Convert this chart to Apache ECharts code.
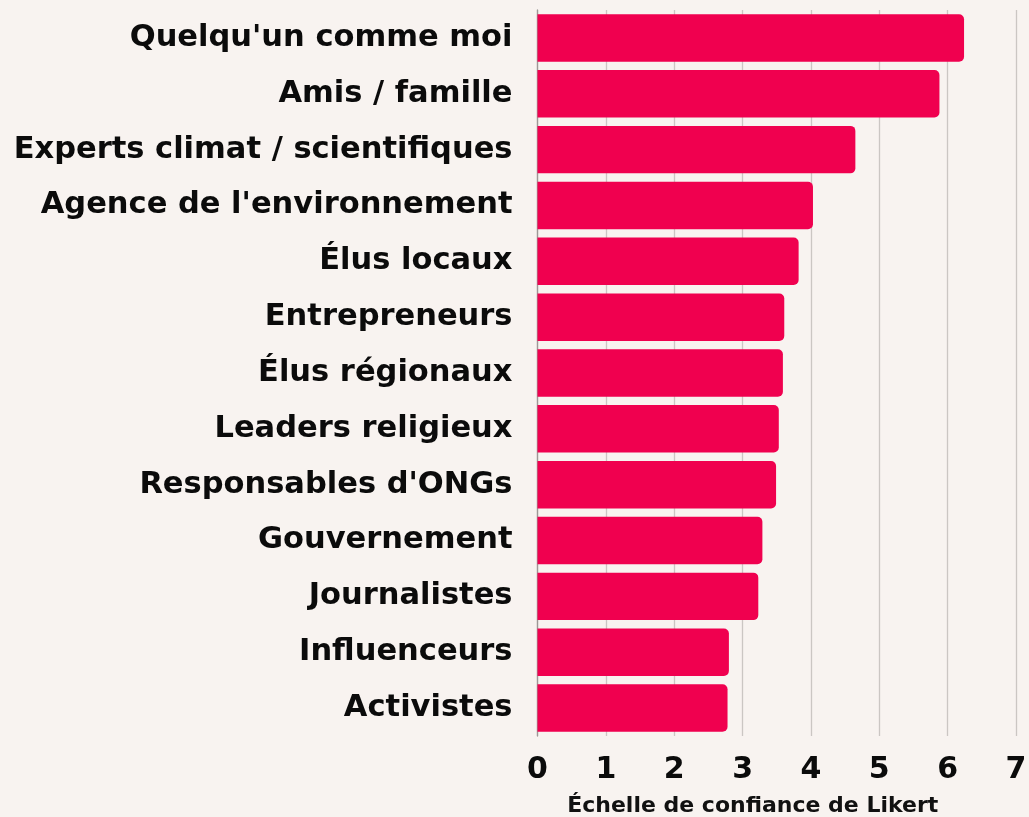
<!DOCTYPE html>
<html>
<head>
<meta charset="utf-8">
<style>
  html, body { margin: 0; padding: 0; background: #f8f3f0; }
  #chart { width: 1029px; height: 817px; }
</style>
<script src="https://cdn.jsdelivr.net/npm/echarts@6/dist/echarts.min.js"></script>
</head>
<body>
<div id="chart"></div>
<script>
// Sources de confiance, de la plus haute à la plus basse
const categories = [
  "Quelqu'un comme moi",
  "Amis / famille",
  "Experts climat / scientifiques",
  "Agence de l'environnement",
  "Élus locaux",
  "Entrepreneurs",
  "Élus régionaux",
  "Leaders religieux",
  "Responsables d'ONGs",
  "Gouvernement",
  "Journalistes",
  "Influenceurs",
  "Activistes"
];

// Score moyen sur l'échelle de Likert
const scores = [6.24, 5.88, 4.65, 4.03, 3.82, 3.61, 3.59, 3.53, 3.49, 3.29, 3.23, 2.80, 2.78];

const xTicks = [0, 1, 2, 3, 4, 5, 6, 7];
const axisTitle = "Échelle de confiance de Likert";

const FONT = "DejaVu Sans";
const chart = echarts.init(document.getElementById('chart'), null, { renderer: 'canvas' });

chart.setOption({
  backgroundColor: '#f8f3f0',
  animation: false,
  grid: {
    left: 537.5, right: 13, top: 10, bottom: 81,
    containLabel: false,
    outerBoundsMode: 'none'
  },
  xAxis: {
    type: 'value',
    min: xTicks[0],
    max: xTicks[xTicks.length - 1],
    interval: 1,
    axisLine: { show: false },
    axisTick: { show: false },
    splitLine: { show: true, lineStyle: { color: '#cbc6c3', width: 1.3 } },
    axisLabel: {
      margin: 19,
      color: '#0b0b0b',
      fontFamily: FONT,
      fontWeight: 'bold',
      fontSize: 30
    },
    name: axisTitle,
    nameLocation: 'middle',
    nameGap: 59,
    nameTextStyle: {
      color: '#111',
      fontFamily: FONT,
      fontWeight: 'bold',
      fontSize: 22,
      padding: [0, 48, 0, 0]
    }
  },
  yAxis: {
    type: 'category',
    inverse: true,
    data: categories,
    axisLine: { show: true, lineStyle: { color: '#9c9896', width: 1.3 } },
    axisTick: { show: false },
    axisLabel: {
      margin: 25,
      color: '#0b0b0b',
      fontFamily: FONT,
      fontWeight: 'bold',
      fontSize: 30.5
    }
  },
  series: [{
    type: 'bar',
    data: scores,
    barCategoryGap: '15%',
    itemStyle: { color: '#f0004f', borderRadius: [0, 5, 5, 0] }
  }]
});
</script>
</body>
</html>
